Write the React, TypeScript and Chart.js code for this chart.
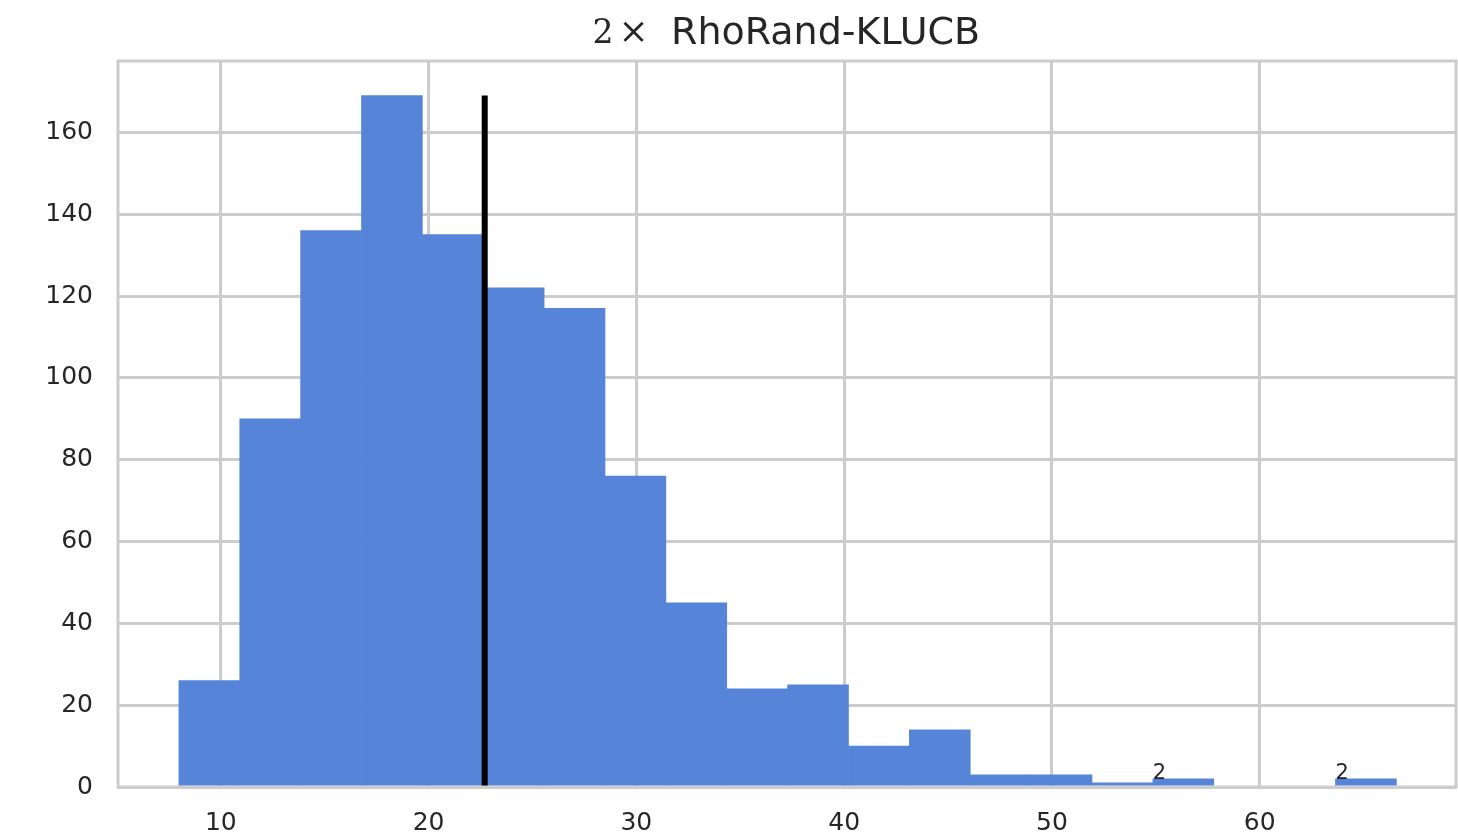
import React, { useEffect, useRef } from "react";
import { Chart, registerables } from "chart.js";

Chart.register(...registerables);

// Histogram data
const binCenters = [
  9.445, 12.375, 15.305, 18.235, 21.165, 24.095, 27.025, 29.955, 32.885, 35.815,
  38.745, 41.675, 44.605, 47.535, 50.465, 53.395, 56.325, 59.255, 62.185, 65.115,
];
const counts = [26, 90, 136, 169, 135, 122, 117, 76, 45, 24, 25, 10, 14, 3, 3, 1, 2, 0, 0, 2];
const binWidth = 2.93;
const meanValue = 22.7;
const annotatedBins = [16, 19];
const xTicksStep = 10;
const yTicksStep = 20;
const xMin = 5.05;
const xMax = 69.45;
const yMax = 177.45;
const titlePrefix = ["2", "\u00d7"];
const titleText = "RhoRand-KLUCB";

const TEXT = "#262626";
const GRID = "#cccccc";
const BAR = "#5684d9";

export default function App() {
  const ref = useRef<HTMLCanvasElement | null>(null);

  useEffect(() => {
    document.body.style.margin = "0";
    const canvas = ref.current;
    if (!canvas) return;

    const decor = {
      id: "decor",
      afterDatasetsDraw(chart: any) {
        const { ctx, chartArea, scales } = chart;
        const { left, right, top, bottom } = chartArea;
        ctx.save();
        // frame
        ctx.strokeStyle = GRID;
        ctx.lineWidth = 3;
        ctx.strokeRect(left, top, right - left, bottom - top);
        // annotations
        ctx.fillStyle = TEXT;
        ctx.font = '21px "DejaVu Sans"';
        ctx.textAlign = "left";
        ctx.textBaseline = "alphabetic";
        for (const i of annotatedBins) {
          const x = scales.x.getPixelForValue(binCenters[i] - binWidth / 2);
          const y = scales.y.getPixelForValue(counts[i]);
          ctx.fillText(String(counts[i]), x, y);
        }
        // title
        const cx = (left + right) / 2;
        const baseY = 43;
        ctx.font = '33px "DejaVu Serif"';
        ctx.textAlign = "center";
        ctx.fillText(titlePrefix[0], cx - 184, baseY);
        ctx.font = '36px "DejaVu Serif"';
        ctx.fillText(titlePrefix[1], cx - 153.5, baseY);
        ctx.textAlign = "left";
        ctx.font = '38px "DejaVu Sans"';
        ctx.fillText(titleText, cx - 116, baseY + 1);
        ctx.restore();
      },
    };

    const chart = new Chart(canvas, {
      type: "bar",
      data: {
        datasets: [
          {
            type: "line",
            data: [
              { x: meanValue, y: 0 },
              { x: meanValue, y: Math.max(...counts) },
            ],
            borderColor: "#000000",
            borderWidth: 6,
            pointRadius: 0,
            order: 0,
          } as any,
          {
            type: "bar",
            data: binCenters.map((c, i) => ({ x: c, y: counts[i] })),
            backgroundColor: BAR,
            borderWidth: 0,
            barPercentage: 1,
            categoryPercentage: 1,
            order: 1,
          } as any,
        ],
      },
      options: {
        animation: false,
        responsive: true,
        maintainAspectRatio: false,
        layout: { padding: { top: 61, right: 2, left: 0, bottom: 0 } },
        plugins: {
          legend: { display: false },
          tooltip: { enabled: false },
          title: { display: false },
        },
        scales: {
          x: {
            type: "linear",
            min: xMin,
            max: xMax,
            offset: false,
            grid: { color: GRID, lineWidth: 3, drawTicks: false, offset: false },
            border: { display: false },
            ticks: {
              stepSize: xTicksStep,
              includeBounds: false,
              color: TEXT,
              font: { family: "DejaVu Sans", size: 25 },
              padding: 21,
              maxRotation: 0,
            },
            afterFit(scale: any) {
              scale.height = 48;
            },
          },
          y: {
            type: "linear",
            min: 0,
            max: yMax,
            grid: { color: GRID, lineWidth: 3, drawTicks: false },
            border: { display: false },
            ticks: {
              stepSize: yTicksStep,
              includeBounds: false,
              color: TEXT,
              font: { family: "DejaVu Sans", size: 25 },
              padding: 25,
            },
            afterFit(scale: any) {
              scale.width = 118;
            },
          },
        },
      } as any,
      plugins: [decor],
    });

    return () => chart.destroy();
  }, []);

  return (
    <div style={{ position: "absolute", left: 0, top: 0, width: 1458, height: 835 }}>
      <canvas ref={ref} />
    </div>
  );
}
